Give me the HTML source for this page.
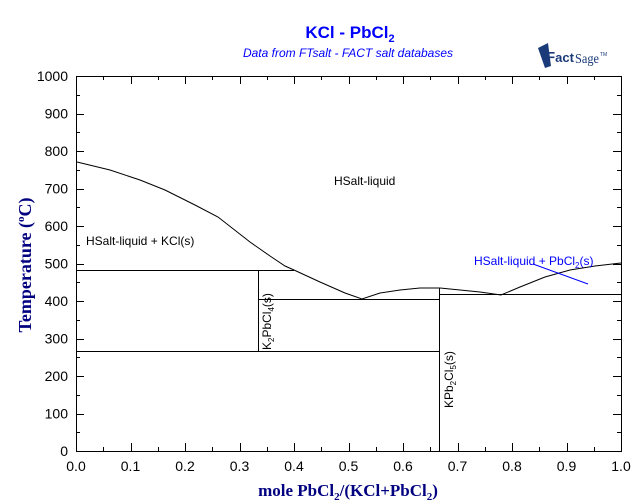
<!DOCTYPE html>
<html><head><style>
body{margin:0;background:#fff;}
svg{display:block;}
</style></head><body>
<svg width="640" height="504" viewBox="0 0 640 504" xmlns="http://www.w3.org/2000/svg" font-family="Liberation Sans, sans-serif">
<rect width="640" height="504" fill="#fff"/>
<text x="350" y="38" text-anchor="middle" font-size="17" font-weight="bold" fill="#0000ff">KCl - PbCl<tspan font-size="11" dy="4">2</tspan></text>
<text x="348" y="57" text-anchor="middle" font-size="12" font-style="italic" fill="#0000ff">Data from FTsalt - FACT salt databases</text>
<g>
<path d="M538 48 L548 43 L551 66 L545 68 Z" fill="#1a3a7a"/>
<text x="546" y="62" style="font-family:'Liberation Sans',sans-serif" font-size="15" font-weight="bold" fill="#1a3a7a">F<tspan font-size="13">act</tspan></text>
<text x="575" y="63" style="font-family:'Liberation Serif',serif" font-size="14" fill="#1a3a7a" textLength="24" lengthAdjust="spacingAndGlyphs">Sage</text>
<text x="600" y="56" font-size="5" fill="#1a3a7a">TM</text>
</g>
<g stroke="#000" stroke-width="1" fill="none" shape-rendering="crispEdges">
<rect x="76.5" y="76.5" width="545" height="375"/>
</g>
<g id="ticks" stroke="#000" stroke-width="1" shape-rendering="crispEdges"></g>
<g font-size="14" fill="#000" text-anchor="end" id="ylab"></g>
<g font-size="14" fill="#000" text-anchor="middle" id="xlab"></g>
<g stroke="#000" stroke-width="1" fill="none">
<polyline points="77,162 110,170 140,180 165,190 195,205 218,217 250,242 270,256 285,266 294,270 320,282 345,293 362,299 380,293 400,290 420,288 440,288 460,290 480,292 501,295 520,287 545,277 570,270 595,266 621,263"/>
</g>
<g stroke="#000" stroke-width="1" shape-rendering="crispEdges">
<line x1="76" y1="270.5" x2="294" y2="270.5"/>
<line x1="258.5" y1="270" x2="258.5" y2="351"/>
<line x1="76" y1="351.5" x2="440" y2="351.5"/>
<line x1="258" y1="299.5" x2="440" y2="299.5"/>
<line x1="439.5" y1="288" x2="439.5" y2="451"/>
<line x1="440" y1="294.5" x2="621" y2="294.5"/>
</g>
<line x1="533" y1="264" x2="588" y2="284" stroke="#0000ff" stroke-width="1"/>
<text x="334" y="185" font-size="12" fill="#000">HSalt-liquid</text>
<text x="86" y="245" font-size="12" fill="#000">HSalt-liquid + KCl(s)</text>
<text x="474" y="265" font-size="12" fill="#0000ff">HSalt-liquid + PbCl<tspan font-size="8" dy="3">2</tspan><tspan dy="-3">(s)</tspan></text>
<text transform="translate(271,350) rotate(-90)" font-size="12" fill="#000">K<tspan font-size="8" dy="3">2</tspan><tspan dy="-3">PbCl</tspan><tspan font-size="8" dy="3">4</tspan><tspan dy="-3">(s)</tspan></text>
<text transform="translate(453,408) rotate(-90)" font-size="12" fill="#000">KPb<tspan font-size="8" dy="3">2</tspan><tspan dy="-3">Cl</tspan><tspan font-size="8" dy="3">5</tspan><tspan dy="-3">(s)</tspan></text>
<text x="348" y="496" text-anchor="middle" style="font-family:'Liberation Serif',serif" font-size="17" font-weight="bold" fill="#000080">mole PbCl<tspan font-size="11" dy="4">2</tspan><tspan dy="-4">/(KCl+PbCl</tspan><tspan font-size="11" dy="4">2</tspan><tspan dy="-4">)</tspan></text>
<text transform="translate(31,265) rotate(-90)" text-anchor="middle" style="font-family:'Liberation Serif',serif" font-size="18" font-weight="bold" fill="#000080">Temperature (<tspan font-size="11" dy="-7">o</tspan><tspan dy="7">C)</tspan></text>
<script>
var t=document.getElementById('ticks'),yl=document.getElementById('ylab'),xl=document.getElementById('xlab'),ns='http://www.w3.org/2000/svg';
function L(a,b,c,d){var e=document.createElementNS(ns,'line');e.setAttribute('x1',a);e.setAttribute('y1',b);e.setAttribute('x2',c);e.setAttribute('y2',d);t.appendChild(e);}
function T(g,x,y,s){var e=document.createElementNS(ns,'text');e.setAttribute('x',x);e.setAttribute('y',y);e.textContent=s;g.appendChild(e);}
for(var i=0;i<=20;i++){var y=Math.round(451-i*18.75)+0.5,len=i%2==0?8:4;L(76,y,76+len,y);L(621,y,621-len,y);}
for(var i=0;i<=10;i++){T(yl,68,451-i*37.5+5,String(i*100));}
for(var i=0;i<=20;i++){var x=Math.round(76+i*27.25)+0.5,len=i%2==0?8:4;L(x,451,x,451-len);L(x,76,x,76+len);}
for(var i=0;i<=10;i++){T(xl,76+i*54.5,471,(i/10).toFixed(1));}
</script>
</svg>
</body></html>
